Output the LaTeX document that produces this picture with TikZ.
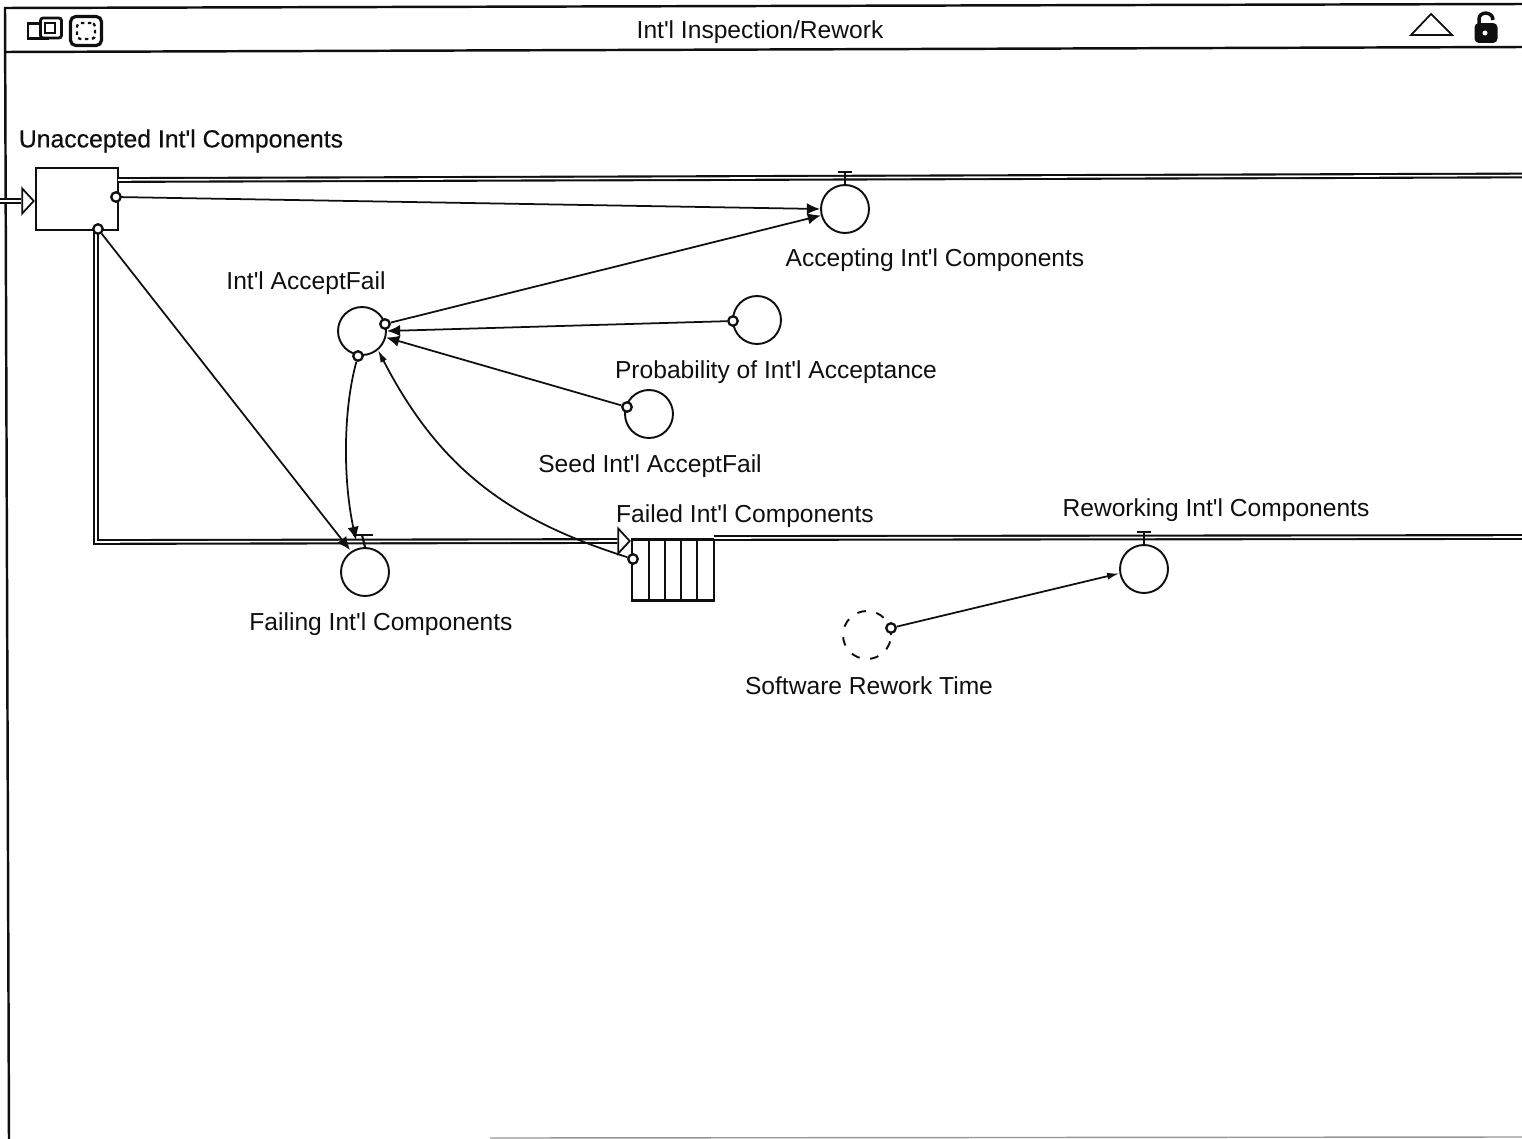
\documentclass[tikz,border=0pt]{standalone}
\usepackage{fontspec}
\setmainfont[Ligatures=TeXOff]{Liberation Sans}
\usepackage{xcolor}
\usepackage{tikz}
\usetikzlibrary{shapes.geometric, arrows.meta, positioning, calc}
\definecolor{mydark}{RGB}{15,15,15}
\definecolor{myedge}{RGB}{150,150,150}
\tikzset{
  stockbox/.style={rectangle, draw=mydark, fill=white, minimum width=1.64cm,
    minimum height=1.24cm, line width=1.2pt, inner sep=0pt},
  valve/.style={circle, draw=mydark, fill=white, minimum size=0.96cm,
    line width=1.1pt, inner sep=0pt},
  ghost/.style={valve, dashed, dash pattern=on 5pt off 6pt},
  port/.style={circle, draw=mydark, fill=white, minimum size=0.19cm,
    line width=1.3pt, inner sep=0pt},
  flowtip/.style={isosceles triangle, isosceles triangle stretches, draw=mydark,
    fill=white, minimum width=0.5cm, minimum height=0.23cm, line width=1pt,
    inner sep=0pt, anchor=apex},
  pipe/.style={draw=mydark, line width=1.2pt, double=white, double distance=0.9pt},
  link/.style={-{Latex[length=7.5pt,width=6.5pt]}, draw=mydark, line width=1pt},
  thinlink/.style={-{Latex[length=7pt,width=4pt]}, draw=mydark, line width=1pt},
  frameline/.style={draw=mydark, line width=1.4pt},
  label/.style={font=\fontsize{14}{16}\selectfont, text=mydark, inner sep=0pt}
}

\begin{document}
\begin{tikzpicture}[x=0.02cm, y=-0.02cm]
  \useasboundingbox (0,0) rectangle (1522,1139);

  % Window frame
  \coordinate (topleft) at (5,8);
  \coordinate (topright) at (1522,4);
  \coordinate (barleft) at (5,52);
  \coordinate (barright) at (1522,47);
  \coordinate (botleft) at (9,1139);
  \coordinate (botmid) at (490,1138);
  \coordinate (botright) at (1522,1137);
  \draw[frameline] (topright) -- (topleft) -- (botleft);
  \draw[frameline] (barleft) -- (barright);
  \draw[draw=myedge, line width=0.8pt] (botmid) -- (botright);
  \node[label] (title) at (760,32) {Int'l Inspection/Rework};

  % Title bar icons
  \node[draw=mydark, line width=1.4pt, minimum width=0.4cm, minimum height=0.3cm, inner sep=0pt] (iconback) at (38,31) {};
  \node[draw=mydark, fill=white, line width=1.6pt, rounded corners=1.5pt, minimum width=0.42cm, minimum height=0.4cm, inner sep=0pt] (iconfront) at (51,28) {};
  \node[draw=mydark, line width=1.2pt, minimum width=0.2cm, minimum height=0.2cm, inner sep=0pt] (iconfrontin) at (50,28) {};
  \node[draw=mydark, line width=1.8pt, rounded corners=3pt, minimum width=0.62cm, minimum height=0.58cm, inner sep=0pt] (iconzoom) at (86,31) {};
  \node[draw=mydark, dash pattern=on 2pt off 2pt, line width=1.3pt, rounded corners=2pt, minimum width=0.36cm, minimum height=0.32cm, inner sep=0pt] (iconzoomin) at (86,31) {};
  \coordinate (triA) at (1411,35);
  \coordinate (triB) at (1452,35);
  \coordinate (triC) at (1431,14);
  \draw[draw=mydark, line width=1pt] (triA) -- (triB) -- (triC) -- cycle;

  % Lock
  \coordinate (shackleA) at (1479,27);
  \coordinate (shackleB) at (1479,19);
  \coordinate (shackleC) at (1493,20);
  \draw[draw=mydark, line width=2pt] (shackleA) -- (shackleB) .. controls (1479,11) and (1493,11) .. (shackleC);
  \node[fill=mydark, rounded corners=2.5pt, minimum width=0.46cm, minimum height=0.4cm, inner sep=0pt] (lockbody) at (1486,33) {};
  \node[circle, fill=white, minimum size=0.1cm, inner sep=0pt] (keyhole) at (1485,33) {};

  % Unaccepted stock
  \node[stockbox] (unacc) at (77,199) {};
  \node[label, font=\fontsize{14.1}{16}\selectfont\addfontfeature{FakeBold=0.4}] (unacclab) at (181,141) {Unaccepted Int'l Components};
  \coordinate (instart) at (0,201);
  \node[flowtip] (intip) at (36,201) {};
  \draw[pipe] (instart) -- (intip.west);

  % Accepting flow
  \node[valve] (accept) at (845,209) {};
  \node[label] (acceptlab) at (935,260) {Accepting Int'l Components};
  \coordinate (acceptstart) at (118,180);
  \coordinate (acceptend) at (1522,175.5);
  \coordinate (accepttop) at (845,172);
  \draw[pipe] (acceptstart) -- (acceptend);
  \draw[line width=1.2pt, draw=mydark] (accept.north) -- (accepttop);
  \draw[line width=1.4pt, draw=mydark] ([xshift=-4pt]accepttop) -- ([xshift=4pt]accepttop);

  % Int'l AcceptFail
  \node[valve] (fail) at (362,331) {};
  \node[label] (faillab) at (306,283) {Int'l AcceptFail};

  % Probability of acceptance
  \node[valve] (prob) at (757,320) {};
  \node[label] (problab) at (776,372) {Probability of Int'l Acceptance};

  % Seed
  \node[valve] (seed) at (649,414) {};
  \node[label] (seedlab) at (650,466) {Seed Int'l AcceptFail};

  % Failing flow
  \node[valve] (failing) at (365,572) {};
  \node[label] (failinglab) at (381,624) {Failing Int'l Components};
  \coordinate (failingtop) at (362,535);
  \coordinate (pipestart) at (96,230);
  \coordinate (pipecorner) at (96,542);
  \node[flowtip] (failedtip) at (632,541) {};
  \draw[pipe] (pipestart) -- (pipecorner) -- (failedtip.west);
  \draw[line width=1.2pt, draw=mydark] (failing.north) -- (failingtop);
  \draw[line width=1.4pt, draw=mydark] ([xshift=-5pt]failingtop) -- ([xshift=6pt]failingtop);

  % Failed stock, a conveyor
  \node[stockbox, minimum height=1.22cm] (failed) at (673,570) {};
  \foreach \x in {649,665,681,697} {
    \draw[line width=1pt, draw=mydark] (\x,540) -- (\x,600);
  }
  \node[label] (failedlab) at (745,516) {Failed Int'l Components};

  % Reworking flow
  \node[valve] (rework) at (1144,569) {};
  \node[label] (reworklab) at (1216,510) {Reworking Int'l Components};
  \coordinate (reworkstart) at (714,538);
  \coordinate (reworkend) at (1522,537);
  \coordinate (reworktop) at (1144,532);
  \draw[pipe] (reworkstart) -- (reworkend);
  \draw[line width=1.2pt, draw=mydark] (rework.north) -- (reworktop);
  \draw[line width=1.4pt, draw=mydark] ([xshift=-4pt]reworktop) -- ([xshift=4pt]reworktop);

  % Software rework time
  \node[ghost] (soft) at (867,635) {};
  \node[label] (softlab) at (869,686) {Software Rework Time};

  % Connector ports
  \node[port] (unaccright) at (116,197) {};
  \node[port] (unaccbot) at (98,229) {};
  \node[port] (failright) at (385,324) {};
  \node[port] (failbot) at (358,356) {};
  \node[port] (probport) at (733,321) {};
  \node[port] (seedport) at (627,407) {};
  \node[port] (failedport) at (633,559) {};
  \node[port] (softport) at (891,628) {};

  % Connectors
  \coordinate (failingin) at (350,550);
  \coordinate (failingcurve) at (356,540);
  \draw[link] (unaccright) -- (accept.west);
  \draw[link] (failright) -- (accept.195);
  \draw[link] (probport) -- (fail.east);
  \draw[link] (seedport) -- (fail.345);
  \draw[link] (unaccbot) -- (failingin);
  \draw[link] (failbot) .. controls (343,410) and (343,480) .. (failingcurve);
  \draw[thinlink] (failedport) .. controls (510,520) and (440,470) .. (fail.310);
  \draw[thinlink] (softport) -- (rework.190);
\end{tikzpicture}
\end{document}
